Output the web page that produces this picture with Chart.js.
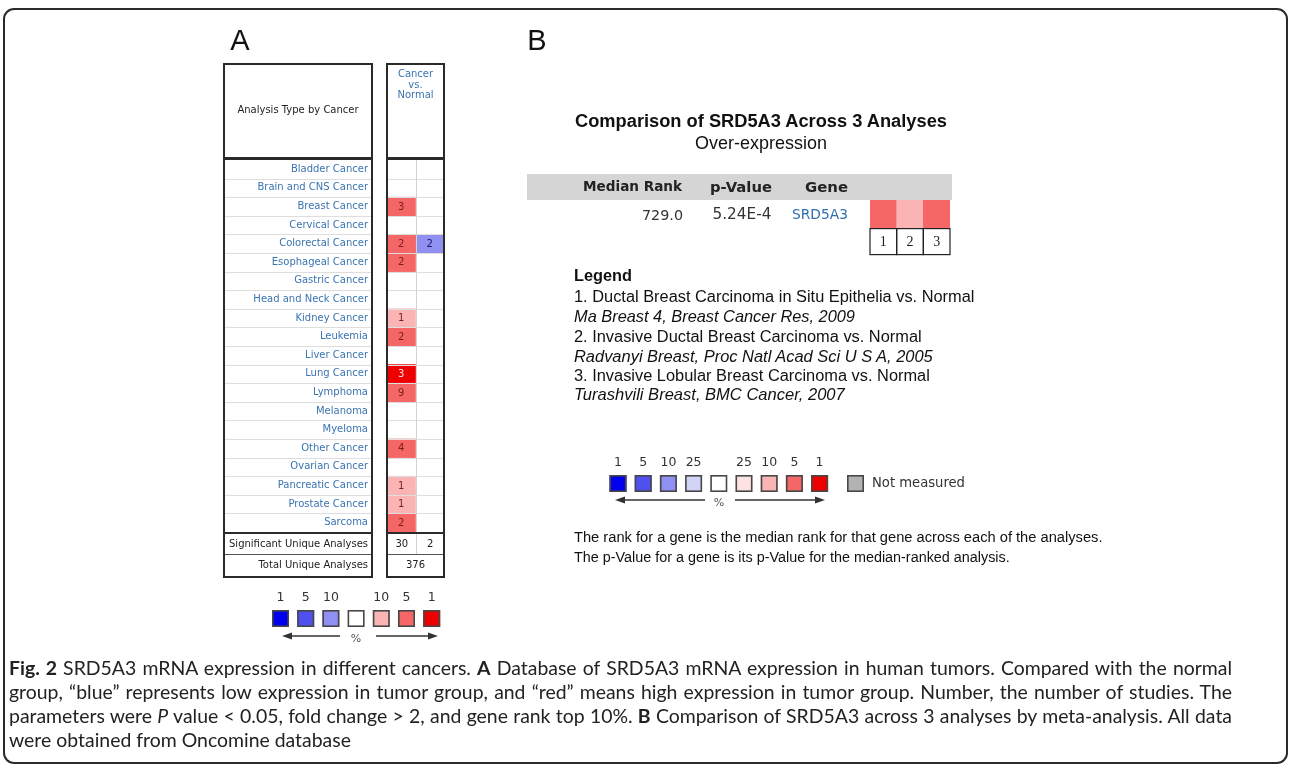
<!DOCTYPE html>
<html><head><meta charset="utf-8">
<title>SRD5A3 mRNA expression (Oncomine)</title>
<script src="https://cdn.jsdelivr.net/npm/chart.js@4.4.1/dist/chart.umd.min.js"></script>
<style>
html,body{margin:0;padding:0;background:#fff;}
body{width:1292px;height:767px;position:relative;overflow:hidden;}
#frame{position:absolute;left:3px;top:8px;width:1285px;height:756px;box-sizing:border-box;border:2px solid #2a2a2a;border-radius:11px;}
#band{position:absolute;left:527px;top:174px;width:425px;height:26px;background:#d5d5d5;}
canvas{position:absolute;}
#cA{left:0;top:0;}
#cB{left:860px;top:190px;}
.t{position:absolute;white-space:nowrap;line-height:1;color:#111;font-family:'Liberation Sans',Arial,sans-serif;font-size:16px;}
.tb{font-family:'DejaVu Sans',sans-serif;font-size:13px;color:#222;}
.cap{position:absolute;left:9px;width:1223px;font-family:Lato,sans-serif;font-size:18px;line-height:24px;height:24px;color:#222;white-space:nowrap;}
.cap.j{text-align:justify;text-align-last:justify;}
</style></head>
<body>
<div id="frame"></div>
<div id="band"></div>
<canvas id="cA" width="1292" height="767"></canvas>
<canvas id="cB" width="100" height="75"></canvas>

<div class="t" data-x="240" data-y="40" data-a="c" style="font-size:29px">A</div>
<div class="t" data-x="537" data-y="40" data-a="c" style="font-size:29px">B</div>
<div class="t" id="titleB" data-x="761" data-y="121" data-a="c" data-w="372" style="font-weight:bold"></div>
<div class="t" id="subB" data-x="761" data-y="143" data-a="c" data-w="132"></div>
<div class="t tb" id="hRank" data-x="682" data-y="187" data-a="r" data-w="99" style="font-weight:bold"></div>
<div class="t tb" id="hP" data-x="741" data-y="187" data-a="c" data-w="62" style="font-weight:bold"></div>
<div class="t tb" id="hGene" data-x="826.5" data-y="187" data-a="c" data-w="43" style="font-weight:bold"></div>
<div class="t tb" id="vRank" data-x="683" data-y="215" data-a="r" data-w="41" style="color:#333"></div>
<div class="t tb" id="vP" data-x="712.5" data-y="215" data-a="l" data-w="59" style="color:#333"></div>
<div class="t tb" id="vGene" data-x="792" data-y="215" data-a="l" data-w="56" style="color:#2f6fae"></div>
<div id="legendB"></div>

<div class="cap j" data-y="668"><span><b>Fig. 2</b> SRD5A3 mRNA expression in different cancers. <b>A</b> Database of SRD5A3 mRNA expression in human tumors. Compared with the normal</span></div>
<div class="cap j" data-y="692"><span>group, “blue” represents low expression in tumor group, and “red” means high expression in tumor group. Number, the number of studies. The</span></div>
<div class="cap j" data-y="716"><span>parameters were <i>P</i> value &lt; 0.05, fold change &gt; 2, and gene rank top 10%. <b>B</b> Comparison of SRD5A3 across 3 analyses by meta-analysis. All data</span></div>
<div class="cap" data-y="740"><span>were obtained from Oncomine database</span></div>

<script>
// ---------------- DATA ----------------
const cancers = ['Bladder Cancer','Brain and CNS Cancer','Breast Cancer','Cervical Cancer','Colorectal Cancer','Esophageal Cancer','Gastric Cancer','Head and Neck Cancer','Kidney Cancer','Leukemia','Liver Cancer','Lung Cancer','Lymphoma','Melanoma','Myeloma','Other Cancer','Ovarian Cancer','Pancreatic Cancer','Prostate Cancer','Sarcoma'];
// number of studies (over-expression column / under-expression column)
const overCounts  = [0,0,3,0,2,2,0,0,1,2,0,3,9,0,0,4,0,1,1,2];
const underCounts = [0,0,0,0,2,0,0,0,0,0,0,0,0,0,0,0,0,0,0,0];
// best gene-rank percentile of the cell (1, 5, 10 %), 0 = none
const overRank    = [0,0,5,0,5,5,0,0,10,5,0,1,5,0,0,5,0,10,10,5];
const underRank   = [0,0,0,0,10,0,0,0,0,0,0,0,0,0,0,0,0,0,0,0];
const rowHeader = 'Analysis Type by Cancer';
const columnHeader = ['Cancer','vs.','Normal'];
const summaryLabels = ['Significant Unique Analyses','Total Unique Analyses'];
const significantUnique = [30, 2];
const totalUnique = 376;
const legendARanks = [1,5,10,0,10,5,1];
const legendADirs  = ['under','under','under','','over','over','over'];

// Panel B
const geneName = 'SRD5A3';
const medianRank = 729.0;
const pValue = 5.24e-4;
const analysesCount = 3;
const analysisIds = ['1','2','3'];
const analysisRank = [5,10,5];
const analysisNames = ['Ductal Breast Carcinoma in Situ Epithelia vs. Normal','Invasive Ductal Breast Carcinoma vs. Normal','Invasive Lobular Breast Carcinoma vs. Normal'];
const analysisRefs = ['Ma Breast 4, Breast Cancer Res, 2009','Radvanyi Breast, Proc Natl Acad Sci U S A, 2005','Turashvili Breast, BMC Cancer, 2007'];
const legendBRanks = [1,5,10,25,0,25,10,5,1];
const legendBDirs  = ['under','under','under','under','','over','over','over','over'];
const notMeasuredLabel = 'Not measured';
const explanation = ['The rank for a gene is the median rank for that gene across each of the analyses.','The p-Value for a gene is its p-Value for the median-ranked analysis.'];

// ---------------- STYLE ----------------
const PALETTE = {
  under:{1:'#0000ec',5:'#5050ee',10:'#9090f3',25:'#d3d3f8'},
  over:{1:'#ee0000',5:'#f56767',10:'#fbb4b4',25:'#fde2e2'}
};
function cellColor(dir, rank){ return rank ? PALETTE[dir][rank] : '#ffffff'; }
const LABEL_BLUE = '#3a74b1';
Chart.defaults.font.family = "'DejaVu Sans', sans-serif";

function line(ctx,x1,y1,x2,y2){ ctx.beginPath(); ctx.moveTo(x1,y1); ctx.lineTo(x2,y2); ctx.stroke(); }
function swatch(ctx,x,y,s,color){
  ctx.fillStyle=color; ctx.fillRect(x,y,s,s);
  ctx.strokeStyle='#474747'; ctx.lineWidth=1.6; ctx.strokeRect(x+0.8,y+0.8,s-1.6,s-1.6);
}
function arrow(ctx,xFrom,xTo,y){
  ctx.strokeStyle='#333'; ctx.fillStyle='#333'; ctx.lineWidth=1.4;
  const d = xTo>xFrom?1:-1;
  line(ctx,xFrom,y,xTo-d*6,y);
  ctx.beginPath(); ctx.moveTo(xTo,y); ctx.lineTo(xTo-d*10,y-3.5); ctx.lineTo(xTo-d*10,y+3.5); ctx.closePath(); ctx.fill();
}
function colorLegend(ctx, ranks, dirs, x0, top, arrowY, pctX, leftArrow, rightArrow){
  const s=17, step=25.2;
  ctx.font="12.5px 'DejaVu Sans'"; ctx.textAlign='center'; ctx.textBaseline='middle';
  ranks.forEach((r,i)=>{
    const x = x0 + i*step;
    swatch(ctx,x,top,s,cellColor(dirs[i],r));
    if (r){ ctx.fillStyle='#333'; ctx.fillText(String(r), x+s/2, top-12); }
  });
  arrow(ctx,leftArrow[1],leftArrow[0],arrowY);
  arrow(ctx,rightArrow[0],rightArrow[1],arrowY);
  ctx.fillStyle='#555'; ctx.font="11px 'DejaVu Sans'"; ctx.fillText('%', pctX, arrowY+3);
}

// ---------------- PANEL A ----------------
const tablePlugin = {
  id:'oncTable',
  afterDatasetsDraw(chart){
    const {ctx, chartArea:ca, scales:{x:xs, y:ys}} = chart;
    const rowH = ys.getPixelForValue(1) - ys.getPixelForValue(0);
    const boxL = 224, boxR = 372, boxTop = 64;
    const sigB = ca.bottom + 22, totB = sigB + 23;
    const colMid = Math.round(xs.getPixelForValue(1)) + 0.5;
    ctx.save();
    ctx.strokeStyle = '#dedede'; ctx.lineWidth = 1;
    for (let i=1;i<cancers.length;i++){
      const y = Math.round(ys.getPixelForValue(i) - rowH/2) + 0.5;
      line(ctx, boxL, y, boxR, y); line(ctx, ca.left, y, ca.right, y);
    }
    ctx.strokeStyle = '#d2d2d2'; line(ctx, colMid, ca.top, colMid, sigB);
    // counts inside cells
    ctx.font = "10px 'DejaVu Sans'"; ctx.textAlign='center'; ctx.textBaseline='middle';
    [[0,overCounts,overRank,'over'],[1,underCounts,underRank,'under']].forEach(([di,counts,ranks,dir])=>{
      const meta = chart.getDatasetMeta(di);
      counts.forEach((c,i)=>{
        if (!c) return;
        const p = meta.data[i].getCenterPoint();
        ctx.fillStyle = dir==='over' ? (ranks[i]===1 ? '#ffdcdc' : '#7a1c1c') : '#1a1a66';
        ctx.fillText(String(c), p.x, p.y + 0.5);
      });
    });
    // heavy rules
    ctx.strokeStyle = '#2a2a2a';
    ctx.lineWidth = 3;
    line(ctx, boxL, ca.top-1.5, boxR, ca.top-1.5); line(ctx, ca.left, ca.top-1.5, ca.right, ca.top-1.5);
    ctx.lineWidth = 2;
    line(ctx, boxL, ca.bottom+1, boxR, ca.bottom+1); line(ctx, ca.left, ca.bottom+1, ca.right, ca.bottom+1);
    ctx.lineWidth = 1; ctx.strokeStyle = '#555';
    line(ctx, boxL, sigB+0.5, boxR, sigB+0.5); line(ctx, ca.left, sigB+0.5, ca.right, sigB+0.5);
    ctx.lineWidth = 2; ctx.strokeStyle = '#2a2a2a';
    ctx.strokeRect(boxL, boxTop, boxR-boxL, totB-boxTop);
    ctx.strokeRect(ca.left, boxTop, ca.right-ca.left, totB-boxTop);
    // texts
    ctx.fillStyle = '#222'; ctx.font = "10px 'DejaVu Sans'";
    ctx.textAlign = 'center';
    ctx.fillText(rowHeader, (boxL+boxR)/2, 110);
    ctx.fillStyle = LABEL_BLUE;
    const cx = (ca.left+ca.right)/2;
    [74, 85, 95].forEach((y,i)=>ctx.fillText(columnHeader[i], cx, y));
    ctx.fillStyle = '#222';
    ctx.textAlign = 'right';
    const sigY = (ca.bottom+sigB)/2 + 1, totY = (sigB+totB)/2;
    ctx.fillText(summaryLabels[0], 368, sigY);
    ctx.fillText(summaryLabels[1], 368, totY);
    ctx.textAlign = 'center';
    ctx.fillText(String(significantUnique[0]), (ca.left+colMid)/2, sigY);
    ctx.fillText(String(significantUnique[1]), (colMid+ca.right)/2, sigY);
    ctx.fillText(String(totalUnique), cx, totY);
    ctx.restore();
  },
  afterDraw(chart){
    const ctx = chart.ctx;
    ctx.save();
    colorLegend(ctx, legendARanks, legendADirs, 272, 610, 636, 356, [282,340], [376,438]);
    colorLegend(ctx, legendBRanks, legendBDirs, 609.5, 475, 500, 719, [615,705], [735,825]);
    swatch(ctx, 847, 475, 17, '#b3b3b3');
    ctx.font = "13px 'DejaVu Sans'";
    const w = ctx.measureText(notMeasuredLabel).width;
    ctx.font = (13*93/w).toFixed(2) + "px 'DejaVu Sans'";
    ctx.fillStyle = '#333'; ctx.textAlign='left'; ctx.textBaseline='middle';
    ctx.fillText(notMeasuredLabel, 872, 484);
    ctx.restore();
  }
};

new Chart(document.getElementById('cA'), {
  type:'bar',
  data:{
    labels: cancers,
    datasets:[
      {label:'Over-expression', data: overCounts.map(c => c>0 ? [0,1] : null),
       backgroundColor: overRank.map(r => cellColor('over', r)), grouped:false,
       barPercentage:1, categoryPercentage:1, borderWidth:0},
      {label:'Under-expression', data: underCounts.map(c => c>0 ? [1,2] : null),
       backgroundColor: underRank.map(r => cellColor('under', r)), grouped:false,
       barPercentage:1, categoryPercentage:1, borderWidth:0}
    ]
  },
  options:{
    indexAxis:'y', responsive:false, animation:false,
    layout:{padding:{left:224, right:1292-444, top:160, bottom:767-532}},
    plugins:{legend:{display:false}, tooltip:{enabled:false}},
    scales:{
      x:{type:'linear', min:0, max:2, display:false},
      y:{type:'category', offset:true,
         grid:{display:false, drawTicks:false}, border:{display:false},
         ticks:{autoSkip:false, padding:19, color:LABEL_BLUE, font:{family:"'DejaVu Sans'", size:10}},
         afterFit(s){ s.width = 163; }}
    }
  },
  plugins:[tablePlugin]
});

// ---------------- PANEL B heat cells ----------------
const boxesPlugin = {
  id:'idBoxes',
  afterDraw(chart){
    const {ctx, chartArea:ca, scales:{x:xs}} = chart;
    const w = xs.getPixelForTick(1) - xs.getPixelForTick(0);
    ctx.save(); ctx.strokeStyle='#222'; ctx.lineWidth=1.2;
    analysisIds.forEach((id,i)=>{
      const c = xs.getPixelForTick(i);
      ctx.strokeRect(c-w/2, ca.bottom+0.6, w, 26);
    });
    ctx.restore();
  }
};
new Chart(document.getElementById('cB'), {
  type:'bar',
  data:{labels: analysisIds, datasets:[{
    data: analysisRank.map(() => [0,1]),
    backgroundColor: analysisRank.map(r => cellColor('over', r)),
    barPercentage:1, categoryPercentage:1, borderWidth:0}]},
  options:{
    responsive:false, animation:false,
    layout:{padding:{left:10,right:10,top:10,bottom:10}},
    plugins:{legend:{display:false}, tooltip:{enabled:false}},
    scales:{
      y:{min:0, max:1, display:false},
      x:{offset:true, grid:{display:false, drawTicks:false}, border:{display:false},
         ticks:{padding:6, color:'#222', font:{family:"'Liberation Serif', serif", size:14}},
         afterFit(s){ s.height = 27; }}
    }
  },
  plugins:[boxesPlugin]
});

// ---------------- TEXT ----------------
document.getElementById('titleB').textContent = 'Comparison of ' + geneName + ' Across ' + analysesCount + ' Analyses';
document.getElementById('subB').textContent = 'Over-expression';
document.getElementById('hRank').textContent = 'Median Rank';
document.getElementById('hP').textContent = 'p-Value';
document.getElementById('hGene').textContent = 'Gene';
document.getElementById('vRank').textContent = medianRank.toFixed(1);
document.getElementById('vP').textContent = pValue.toExponential(2).toUpperCase().replace('E-', 'E-');
document.getElementById('vGene').textContent = geneName;

const lg = document.getElementById('legendB');
function addText(txt, x, y, w, style){
  const d = document.createElement('div'); d.className='t'; d.textContent = txt;
  d.dataset.x = x; d.dataset.y = y; if (w) d.dataset.w = w; d.dataset.a = 'l';
  if (style) d.setAttribute('style', style);
  lg.appendChild(d);
}
addText('Legend', 574, 275, 58, 'font-weight:bold;font-size:15px');
const nameW = [401,348,356], refW = [281,359,271];
const nameY = [296,336,375], refY = [316.5,356,395];
analysisNames.forEach((n,i)=>{
  addText(analysisIds[i] + '. ' + n, 574, nameY[i], nameW[i], 'font-size:15px');
  addText(analysisRefs[i], 574, refY[i], refW[i], 'font-size:15px;font-style:italic');
});
addText(explanation[0], 574, 537, 529, 'font-size:15px');
addText(explanation[1], 574, 557, 436, 'font-size:15px');

function layoutTexts(){
  document.querySelectorAll('.t').forEach(el=>{
    if (!el.dataset.fs0) el.dataset.fs0 = parseFloat(getComputedStyle(el).fontSize);
    let fs = +el.dataset.fs0;
    el.style.fontSize = fs + 'px';
    if (el.dataset.w){
      const w = el.getBoundingClientRect().width;
      fs = fs * (+el.dataset.w) / w; el.style.fontSize = fs + 'px';
    }
    const r = el.getBoundingClientRect();
    const a = el.dataset.a || 'l', x = +el.dataset.x;
    el.style.left = (a==='l' ? x : a==='c' ? x - r.width/2 : x - r.width) + 'px';
    el.style.top = (+el.dataset.y - r.height/2) + 'px';
  });
  const caps = [...document.querySelectorAll('.cap')];
  caps.forEach(c=>{ c.classList.remove('j'); c.style.fontSize='18px'; });
  const widest = Math.max(...caps.slice(0,3).map(c=>c.querySelector('span').getBoundingClientRect().width));
  const fs = 18 * 1216 / widest;
  caps.forEach((c,i)=>{
    c.style.fontSize = fs + 'px';
    c.style.top = (+c.dataset.y - 12) + 'px';
    if (i < 3) c.classList.add('j');
  });
}
layoutTexts();
if (document.fonts && document.fonts.ready) document.fonts.ready.then(layoutTexts);
</script>
</body></html>
